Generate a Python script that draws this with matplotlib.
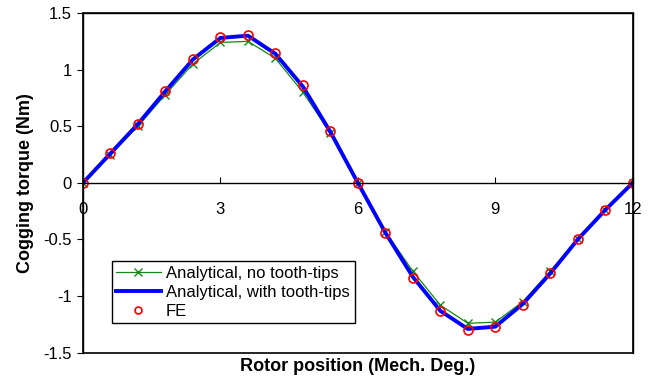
import numpy as np
import matplotlib.pyplot as plt
from matplotlib.patches import Rectangle

plt.rcParams['font.family'] = ['Liberation Sans', 'DejaVu Sans']

# rotor position (mechanical degrees)
position = [0, 0.6, 1.2, 1.8, 2.4, 3.0, 3.6, 4.2, 4.8, 5.4, 6.0,
            6.6, 7.2, 7.8, 8.4, 9.0, 9.6, 10.2, 10.8, 11.4, 12.0]

# cogging torque (Nm)
torque_no_tips = [0, 0.25, 0.50, 0.78, 1.05, 1.24, 1.25, 1.10, 0.80, 0.44, 0,
                  -0.43, -0.78, -1.08, -1.24, -1.23, -1.05, -0.78, -0.50, -0.24, 0]
torque_tips = [0, 0.26, 0.52, 0.81, 1.09, 1.28, 1.30, 1.14, 0.85, 0.45, 0,
               -0.44, -0.83, -1.13, -1.29, -1.27, -1.07, -0.80, -0.50, -0.24, 0]
torque_fe = [0, 0.26, 0.52, 0.81, 1.09, 1.29, 1.31, 1.15, 0.86, 0.46, 0,
             -0.44, -0.84, -1.13, -1.30, -1.27, -1.08, -0.80, -0.50, -0.24, 0]

fig = plt.figure(figsize=(6.56, 3.83), dpi=100)
ax = fig.add_axes([83 / 656, 1 - 352.7 / 383, 549.7 / 656, 339.7 / 383])

ax.plot(position, torque_no_tips, color='#138a13', lw=0.9, marker='x',
        ms=6, mew=1.0, label='Analytical, no tooth-tips')
ax.plot(position, torque_tips, color='#0000ff', lw=2.8,
        label='Analytical, with tooth-tips')
ax.plot(position, torque_fe, ls='none', marker='o', ms=6.5, mfc='none',
        mec='#ff0000', mew=1.2, label='FE')

ax.set_xlim(0, 12)
ax.set_ylim(-1.5, 1.5)
ax.set_xticks([0, 3, 6, 9, 12])
ax.set_yticks([-1.5, -1, -0.5, 0, 0.5, 1, 1.5])
ax.set_yticklabels(['-1.5', '-1', '-0.5', '0', '0.5', '1', '1.5'])

# x axis runs through zero, box drawn separately
ax.spines['bottom'].set_position(('data', 0))
for s in ax.spines.values():
    s.set_linewidth(1.0)
ax.add_patch(Rectangle((0, 0), 1, 1, transform=ax.transAxes, fill=False,
                       lw=1.2, edgecolor='black', clip_on=False, zorder=5))

ax.tick_params(axis='x', direction='in', length=4, pad=14, labelsize=12)
ax.tick_params(axis='y', direction='out', length=4, pad=4, labelsize=12)

ax.set_xlabel('Rotor position (Mech. Deg.)', fontsize=13, fontweight='bold')
ax.xaxis.set_label_coords(0.5, -0.015)
ax.set_ylabel('Cogging torque (Nm)', fontsize=13, fontweight='bold')
ax.yaxis.set_label_coords(-0.09, 0.5)

leg = ax.legend(loc='lower left', bbox_to_anchor=(0.052, 0.087, 0.442, 0.212),
                mode='expand', fontsize=12, handlelength=2.7, handletextpad=0.3,
                labelspacing=0.25, borderaxespad=0, fancybox=False,
                framealpha=1, edgecolor='black', borderpad=0.25)
leg.get_frame().set_linewidth(1.0)
leg.legend_handles[2].set_markersize(5)

fig.savefig('out.png', dpi=100)
